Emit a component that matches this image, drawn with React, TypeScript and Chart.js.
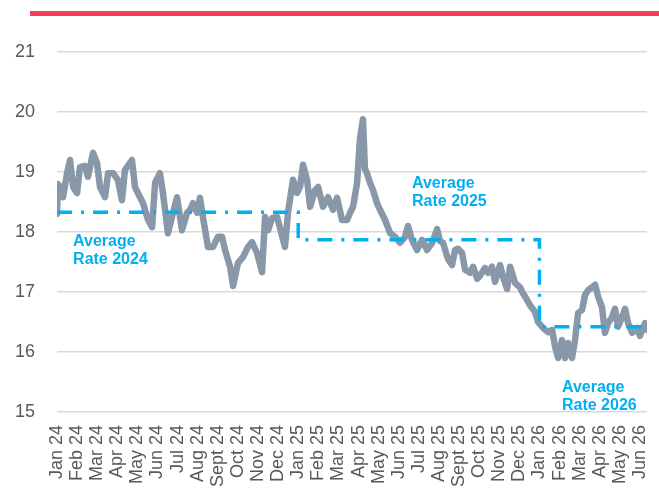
import React, { useEffect, useRef } from "react";
import { Chart, registerables } from "chart.js";

Chart.register(...registerables);

const monthLabels = [
  "Jan 24", "Feb 24", "Mar 24", "Apr 24", "May 24", "Jun 24", "Jul 24", "Aug 24", "Sept 24", "Oct 24", "Nov 24", "Dec 24",
  "Jan 25", "Feb 25", "Mar 25", "Apr 25", "May 25", "Jun 25", "Jul 25", "Aug 25", "Sept 25", "Oct 25", "Nov 25", "Dec 25",
  "Jan 26", "Feb 26", "Mar 26", "Apr 26", "May 26", "Jun 26",
];

// positions in months since Jan 24
const ratePos = [
  0.00, 0.05, 0.15, 0.30, 0.50, 0.65, 0.80, 1.00, 1.14, 1.39, 1.54, 1.79, 1.99, 2.14, 2.39, 2.54, 2.79, 3.03, 3.23, 3.38,
  3.73, 3.88, 4.13, 4.28, 4.53, 4.73, 4.88, 5.12, 5.27, 5.52, 5.72, 5.97, 6.22, 6.47, 6.62, 6.77, 6.97, 7.11, 7.26, 7.51,
  7.76, 8.01, 8.21, 8.36, 8.61, 8.76, 9.00, 9.25, 9.50, 9.70, 9.95, 10.20, 10.35, 10.50, 10.70, 10.95, 11.09, 11.34, 11.49, 11.74,
  11.94, 12.09, 12.24, 12.44, 12.59, 12.84, 12.99, 13.23, 13.48, 13.73, 13.93, 14.18, 14.43, 14.58, 14.73, 14.93, 15.07, 15.22, 15.32, 15.42,
  15.57, 15.72, 15.92, 16.07, 16.32, 16.57, 16.82, 17.06, 17.31, 17.46, 17.66, 17.91, 18.16, 18.41, 18.66, 18.91, 19.05, 19.20, 19.45, 19.65,
  19.80, 19.95, 20.15, 20.30, 20.55, 20.70, 20.90, 21.04, 21.29, 21.44, 21.64, 21.79, 22.04, 22.19, 22.39, 22.54, 22.79, 23.03, 23.18, 23.38,
  23.53, 23.78, 23.93, 24.18, 24.43, 24.63, 24.78, 24.93, 25.12, 25.27, 25.42, 25.62, 25.77, 25.92, 26.12, 26.27, 26.42, 26.62, 26.77, 26.92,
  27.11, 27.26, 27.41, 27.61, 27.76, 27.91, 28.11, 28.26, 28.41, 28.61, 28.86, 29.00, 29.25, 29.35,
];

const rateValues = [
  18.30, 18.80, 18.75, 18.58, 18.98, 19.20, 18.75, 18.65, 19.08, 19.10, 18.92, 19.32, 19.15, 18.75, 18.58, 18.98, 18.98, 18.87, 18.53, 19.03,
  19.20, 18.75, 18.58, 18.48, 18.20, 18.08, 18.82, 18.98, 18.65, 17.98, 18.25, 18.58, 18.03, 18.32, 18.37, 18.48, 18.32, 18.57, 18.25, 17.75,
  17.75, 17.92, 17.92, 17.70, 17.42, 17.10, 17.48, 17.58, 17.75, 17.83, 17.65, 17.33, 18.25, 18.03, 18.23, 18.25, 18.07, 17.75, 18.32, 18.87,
  18.65, 18.75, 19.12, 18.87, 18.42, 18.70, 18.75, 18.42, 18.58, 18.37, 18.57, 18.20, 18.20, 18.32, 18.42, 18.82, 19.55, 19.88, 19.05, 18.98,
  18.82, 18.70, 18.48, 18.37, 18.20, 17.98, 17.92, 17.82, 17.92, 18.10, 17.87, 17.70, 17.87, 17.70, 17.82, 18.05, 17.85, 17.82, 17.55, 17.45,
  17.70, 17.72, 17.65, 17.37, 17.32, 17.42, 17.22, 17.27, 17.40, 17.32, 17.42, 17.17, 17.45, 17.25, 17.05, 17.42, 17.15, 17.08, 16.98, 16.87,
  16.78, 16.67, 16.50, 16.40, 16.33, 16.37, 16.08, 15.90, 16.20, 15.90, 16.15, 15.90, 16.20, 16.65, 16.70, 16.95, 17.03, 17.08, 17.12, 16.92,
  16.75, 16.32, 16.48, 16.58, 16.72, 16.42, 16.58, 16.72, 16.48, 16.32, 16.40, 16.27, 16.48, 16.37,
];

// yearly averages (step line)
const avgPos = [0, 12, 12, 24, 24, 29.35];
const avgValues = [18.33, 18.33, 17.87, 17.87, 16.42, 16.42];

const annotationTexts = [
  ["Average", "Rate 2024"],
  ["Average", "Rate 2025"],
  ["Average", "Rate 2026"],
];
const annotationPos = [0.8, 17.66, 25.12];
const annotationVal = [17.77, 18.73, 15.33];

const yTicks = [15, 16, 17, 18, 19, 20, 21];

const FONT = "'Liberation Sans', Arial, Helvetica, sans-serif";
const BLUE = "#00b0f0";

const textPlugin = {
  id: "avgText",
  afterDatasetsDraw(chart: any) {
    const { ctx, scales } = chart;
    ctx.save();
    ctx.fillStyle = BLUE;
    ctx.font = `bold 16px ${FONT}`;
    ctx.textAlign = "left";
    ctx.textBaseline = "alphabetic";
    annotationTexts.forEach((lines, i) => {
      const x = scales.x.getPixelForValue(annotationPos[i]);
      const y = scales.y.getPixelForValue(annotationVal[i]);
      lines.forEach((t, j) => ctx.fillText(t, x, y + j * 18));
    });
    ctx.restore();
  },
};

export default function App() {
  const ref = useRef<HTMLCanvasElement>(null);
  useEffect(() => {
    if (!ref.current) return;
    Chart.defaults.font.family = FONT;
    const chart = new Chart(ref.current, {
      type: "line",
      data: {
        datasets: [
          {
            label: "Average",
            data: avgPos.map((x, i) => ({ x, y: avgValues[i] })),
            borderColor: BLUE,
            borderWidth: 3.5,
            borderDash: [15, 9, 3, 9],
            borderCapStyle: "butt",
            pointRadius: 0,
            tension: 0,
          },
          {
            label: "Rate",
            data: ratePos.map((x, i) => ({ x, y: rateValues[i] })),
            borderColor: "#8898a8",
            borderWidth: 6.5,
            borderJoinStyle: "round",
            borderCapStyle: "round",
            pointRadius: 0,
            tension: 0,
          },
        ],
      },
      options: {
        animation: false,
        responsive: false,
        maintainAspectRatio: false,
        layout: { padding: { top: 52, left: 15, right: 12, bottom: 0 } },
        plugins: { legend: { display: false }, tooltip: { enabled: false } },
        scales: {
          x: {
            type: "linear",
            min: 0,
            max: 29.35,
            grid: { display: false, drawTicks: false },
            border: { display: false },
            afterFit: (s: any) => {
              s.paddingLeft = 0;
              s.paddingRight = 0;
              s.height = 79;
            },
            ticks: {
              stepSize: 1,
              autoSkip: false,
              includeBounds: false,
              maxRotation: 90,
              minRotation: 90,
              padding: 13,
              color: "#595959",
              font: { size: 18, family: FONT },
              callback: (v: any) => (Number.isInteger(v) ? monthLabels[v] ?? "" : ""),
            },
          },
          y: {
            type: "linear",
            min: yTicks[0],
            max: yTicks[yTicks.length - 1],
            grid: { color: "#d9d9d9", lineWidth: 1.5, drawTicks: false },
            border: { display: false },
            afterFit: (s: any) => {
              s.width = 42;
              s.paddingTop = 0;
              s.paddingBottom = 0;
            },
            ticks: {
              stepSize: 1,
              padding: 22,
              color: "#595959",
              font: { size: 18, family: FONT },
            },
          },
        },
      },
      plugins: [textPlugin],
    });
    return () => chart.destroy();
  }, []);

  return (
    <div style={{ position: "fixed", top: 0, left: 0, width: 659, height: 491, overflow: "hidden", background: "#fff" }}>
      <div style={{ position: "absolute", top: 11, left: 30, width: 629, height: 5, background: "#fb3a5a" }} />
      <canvas ref={ref} width={659} height={491} style={{ position: "absolute", top: 0, left: 0 }} />
    </div>
  );
}
